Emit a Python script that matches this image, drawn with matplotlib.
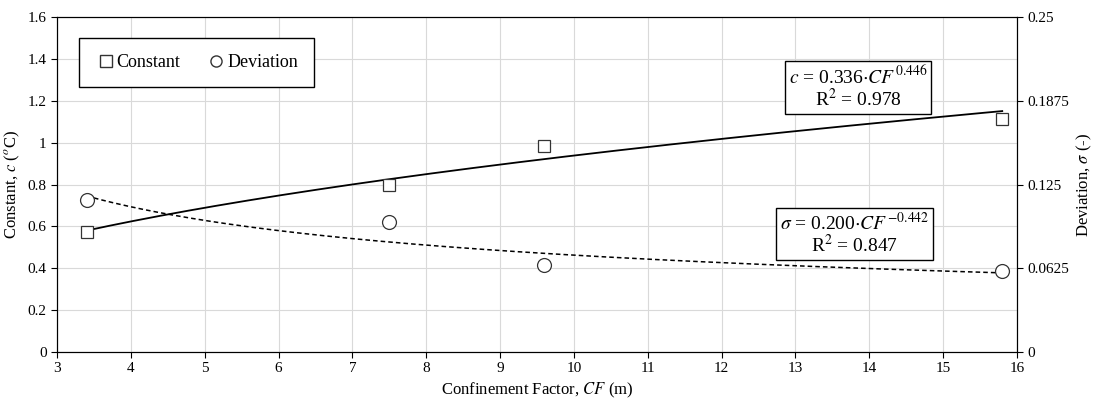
"""Confinement factor vs constant / deviation chart."""
import numpy as np
import matplotlib
matplotlib.use("Agg")
import matplotlib.pyplot as plt
from matplotlib.ticker import FuncFormatter

plt.rcParams["font.family"] = ["Liberation Serif", "DejaVu Serif"]
plt.rcParams["mathtext.fontset"] = "stix"

cf = [3.4, 7.5, 9.6, 15.8]
constant = [0.575, 0.80, 0.985, 1.115]
deviation = [0.1134, 0.097, 0.0649, 0.0605]

# trend line coefficients as shown on the chart
c_a, c_b = 0.336, 0.446
s_a, s_b = 0.200, -0.442

fig = plt.figure(figsize=(10.99, 4.03), dpi=100)
ax = fig.add_axes([57 / 1099, 1 - 352 / 403, 960 / 1099, 335 / 403])
ax2 = ax.twinx()

x_fit = np.linspace(min(cf), max(cf), 200)
ax.plot(x_fit, c_a * x_fit ** c_b, color="black", lw=1.3, zorder=3)
ax.plot(cf, constant, ls="none", marker="s", ms=9, mfc="white", mec="#333333", mew=0.9, zorder=4)
ax2.plot(x_fit, s_a * x_fit ** s_b, color="black", lw=1.1, ls=(0, (3, 2)), zorder=3)
ax2.plot(cf, deviation, ls="none", marker="o", ms=10, mfc="white", mec="#333333", mew=0.9, zorder=4)

ax.set_xlim(3, 16)
ax.set_ylim(0, 1.6)
ax2.set_ylim(0, 0.25)
ax.set_xticks(range(3, 17))
ax.set_yticks(np.arange(0, 1.61, 0.2))
ax2.set_yticks([0, 0.0625, 0.125, 0.1875, 0.25])
ax.yaxis.set_major_formatter(FuncFormatter(lambda v, p: f"{v:g}"))
ax2.yaxis.set_major_formatter(FuncFormatter(lambda v, p: f"{v:g}"))
ax.grid(True, color="#d9d9d9", lw=0.8)
ax.set_axisbelow(True)
for a in (ax, ax2):
    a.tick_params(labelsize=11, length=4, direction="out")
    for s in a.spines.values():
        s.set_color("black")

ax.set_xlabel("Confinement Factor, $\\mathit{CF}$ (m)", fontsize=12)
ax.set_ylabel("Constant, $\\mathit{c}$ ($^{o}$C)", fontsize=12)
ax2.set_ylabel("Deviation, $\\sigma$ (-)", fontsize=12)

h1, = ax.plot([], [], ls="none", marker="s", ms=8, mfc="white", mec="#333333")
h2, = ax.plot([], [], ls="none", marker="o", ms=8, mfc="white", mec="#333333")
leg = ax.legend([h1, h2], ["Constant", "Deviation"], ncol=2, loc="upper left",
                bbox_to_anchor=(0.013, 0.965), fontsize=13, fancybox=False,
                edgecolor="black", handletextpad=0.0, columnspacing=1.4,
                handlelength=1.2, borderpad=0.9, framealpha=1)
leg.get_frame().set_linewidth(1.0)

box = dict(boxstyle="square,pad=0.2", fc="white", ec="black", lw=1.0)
ax.text(13.85, 1.263, "$\\mathit{c}$ = 0.336$\\cdot$$\\mathit{CF}$$\\,^{0.446}$\nR$^2$ = 0.978",
        fontsize=14, ha="center", va="center", bbox=box, linespacing=1.0, zorder=5)
ax.text(13.8, 0.564, "$\\sigma$ = 0.200$\\cdot$$\\mathit{CF}$$\\,^{-0.442}$\nR$^2$ = 0.847",
        fontsize=14, ha="center", va="center", bbox=box, linespacing=1.0, zorder=5)

fig.savefig("out.png", dpi=100)
